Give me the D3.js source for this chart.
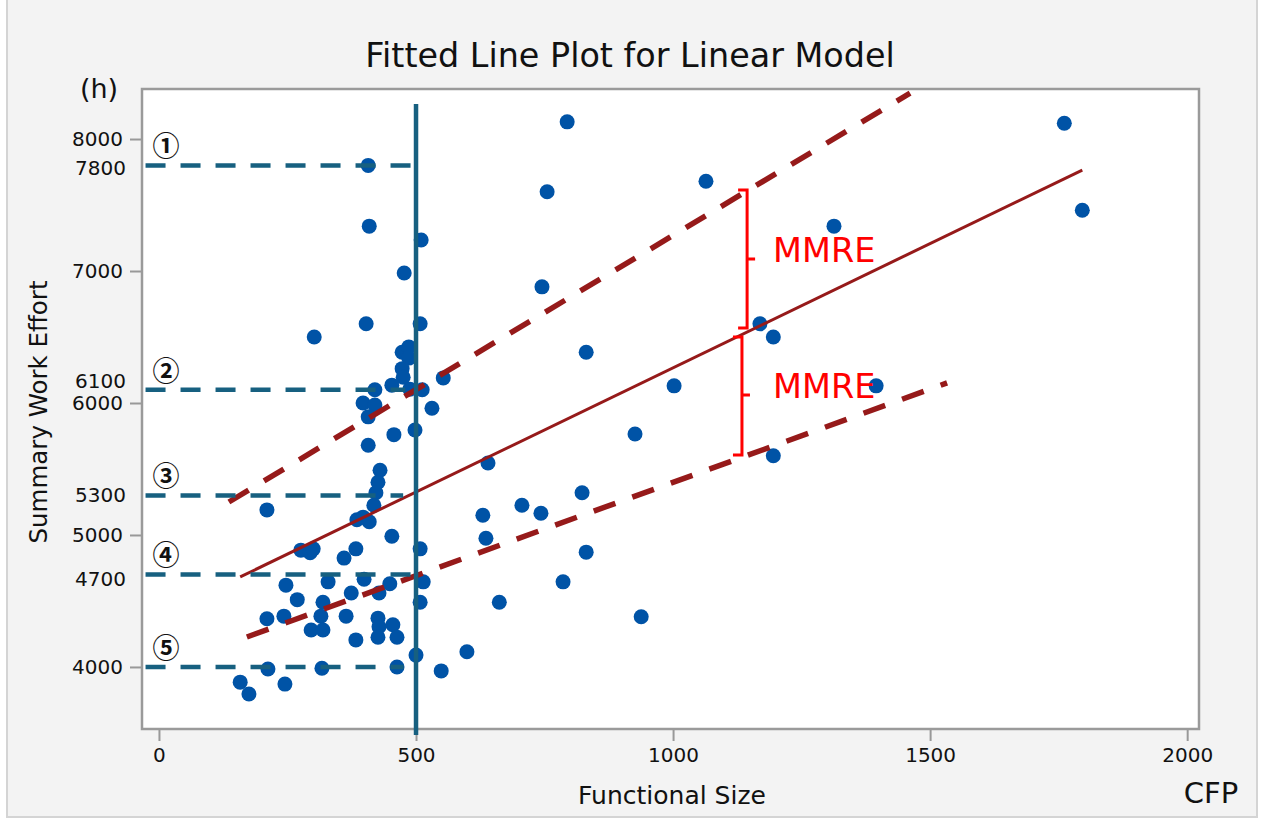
<!DOCTYPE html>
<html>
<head>
<meta charset="utf-8">
<script src="https://cdn.jsdelivr.net/npm/d3@7"></script>
<style>
  body { margin: 0; background: #fff; }
  text { font-family: "DejaVu Sans", Verdana, sans-serif; fill: #111; }
  .tick line { stroke: #999; stroke-width: 2; }
  .tick text { font-size: 20px; }
</style>
</head>
<body>
<svg id="chart"></svg>
<script>
// functional size (CFP) and summary work effort (h) for each project
let sizeCFP = [407, 409, 510, 477, 403, 302, 508, 794, 755, 1064,
  745, 831, 1761, 1796, 1313, 1169, 1195, 1395, 1002, 926,
  1195, 640, 823, 706, 743, 630, 636, 831, 786, 662,
  938, 599, 549, 473, 486, 486, 473, 475, 453, 488,
  512, 553, 420, 397, 420, 407, 531, 457, 498, 407,
  430, 426, 422, 418, 385, 397, 409, 453, 210, 276,
  294, 300, 383, 360, 508, 247, 329, 399, 449, 428,
  514, 269, 319, 374, 508, 210, 243, 315, 364, 426,
  296, 319, 428, 455, 426, 463, 383, 500, 212, 317,
  463, 158, 175, 245]
let effortH = [7800, 7340, 7235, 6985, 6600, 6500, 6600, 8130, 7600, 7680,
  6880, 6385, 8120, 7460, 7340, 6600, 6500, 6130, 6130, 5765,
  5600, 5545, 5320, 5225, 5165, 5150, 4975, 4870, 4645, 4490,
  4380, 4115, 3970, 6385, 6425, 6340, 6260, 6195, 6135, 6105,
  6100, 6190, 6100, 6000, 5985, 5895, 5960, 5760, 5795, 5680,
  5490, 5400, 5320, 5225, 5115, 5135, 5100, 4990, 5190, 4885,
  4865, 4895, 4895, 4825, 4895, 4620, 4645, 4665, 4630, 4560,
  4645, 4510, 4490, 4560, 4490, 4365, 4385, 4385, 4385, 4370,
  4280, 4280, 4305, 4320, 4225, 4225, 4205, 4090, 3985, 3990,
  4000, 3885, 3795, 3870]

let xTicks = [0, 500, 1000, 1500, 2000]
let yTicks = [4000, 5000, 6000, 7000, 8000]

// fitted line and the two MMRE band lines, as [cfp, hours] end points
let fitLine = [[158, 4682], [1796, 7765]]
let upperBand = [[136, 5250], [1461, 8348]]
let lowerBand = [[171, 4227], [1533, 6152]]

// reading lines: effort level, end of the dashed line, marker
let levels = [7800, 6100, 5300, 4700, 4000]
let levelEnds = [515, 479, 475, 515, 476]
let levelMarks = ["①", "②", "③", "④", "⑤"]
let levelShift = [3, -9, 0, 4, 0] // keeps the extra labels clear of the ticks

let cutSize = 500
let cutSpan = [3485, 8265]

// MMRE brackets: x, top, bottom, middle
let bracketX = [1144, 1134]
let bracketTop = [7614, 6500]
let bracketBottom = [6568, 5606]
let bracketMid = [7091, 6061]

let width = 1266,
  height = 830,
  plot = {left: 142, right: 1199, top: 89, bottom: 729},
  teal = "#176080",
  red = "#961a1a"

let svg = d3.select("#chart").attr("width", width).attr("height", height)

svg.append("rect")
  .attr("x", 7).attr("y", -2).attr("width", 1250).attr("height", 819)
  .attr("fill", "#f3f3f3").attr("stroke", "#d4d4d4").attr("stroke-width", 2)

let x = d3.scaleLinear().domain([-33, 2023]).range([plot.left, plot.right])
let y = d3.scaleLinear().domain([3530, 8379]).range([plot.bottom, plot.top])

svg.append("rect")
  .attr("x", plot.left).attr("y", plot.top)
  .attr("width", plot.right - plot.left).attr("height", plot.bottom - plot.top)
  .attr("fill", "#fff").attr("stroke", "#9a9a9a").attr("stroke-width", 2.5)

// axes
let xAxis = svg.append("g")
  .attr("transform", `translate(0, ${plot.bottom + 1})`)
  .call(d3.axisBottom(x).tickValues(xTicks).tickSize(11).tickPadding(7).tickFormat(d3.format("d")))
xAxis.select(".domain").remove()

let yAxis = svg.append("g")
  .attr("transform", `translate(${plot.left - 1}, 0)`)
  .call(d3.axisLeft(y).tickValues(yTicks).tickSize(11).tickPadding(7).tickFormat(d3.format("d")))
yAxis.select(".domain").remove()
svg.selectAll(".tick text").attr("fill", "#111")

// extra effort labels for the reading lines
svg.append("g").attr("class", "levels")
  .selectAll("text")
  .data(levels.slice(0, 4)).enter()
  .append("text")
  .attr("x", 126)
  .attr("y", (d, i) => y(d) + levelShift[i])
  .attr("dy", "0.35em")
  .attr("text-anchor", "end")
  .style("font-size", "20px")
  .text(d => d)

// points
svg.append("clipPath").attr("id", "plotclip")
  .append("rect")
  .attr("x", plot.left).attr("y", plot.top)
  .attr("width", plot.right - plot.left).attr("height", plot.bottom - plot.top)

svg.append("g").selectAll("circle")
  .data(sizeCFP).enter()
  .append("circle")
  .attr("cx", d => x(d))
  .attr("cy", (d, i) => y(effortH[i]))
  .attr("r", 7.5)
  .attr("fill", "#0053a6")

// lines over the points
let line = d3.line().x(d => x(d[0])).y(d => y(d[1]))
let lines = svg.append("g").attr("clip-path", "url(#plotclip)")

lines.append("path").attr("d", line(fitLine))
  .attr("stroke", red).attr("stroke-width", 3).attr("fill", "none")
lines.selectAll(".band")
  .data([upperBand, lowerBand]).enter()
  .append("path")
  .attr("class", "band")
  .attr("d", d => line(d))
  .attr("stroke", red).attr("stroke-width", 5.5).attr("fill", "none")
  .attr("stroke-dasharray", "23 18")

svg.append("g").selectAll("line")
  .data(levels).enter()
  .append("line")
  .attr("x1", x(-30)).attr("x2", (d, i) => x(levelEnds[i]))
  .attr("y1", d => y(d)).attr("y2", d => y(d))
  .attr("stroke", teal).attr("stroke-width", 4.5)
  .attr("stroke-dasharray", "20 15")
  .attr("stroke-dashoffset", -2)

svg.append("line")
  .attr("x1", x(cutSize)).attr("x2", x(cutSize))
  .attr("y1", y(cutSpan[0])).attr("y2", y(cutSpan[1]))
  .attr("stroke", teal).attr("stroke-width", 4.5)

svg.append("g").selectAll("text")
  .data(levelMarks).enter()
  .append("text")
  .attr("x", 166)
  .attr("y", (d, i) => y(levels[i]) - 19)
  .attr("dy", "0.36em")
  .attr("text-anchor", "middle")
  .style("font-family", "'Noto Sans CJK SC', 'Noto Sans CJK JP', sans-serif")
  .style("font-size", "27px")
  .style("font-weight", "bold")
  .text(d => d)

// MMRE brackets
let brackets = svg.append("g")
let textX = x(d3.max(bracketX)) + 26
bracketX.forEach((bx, i) => {
  let px = x(bx), t = y(bracketTop[i]), b = y(bracketBottom[i]), m = y(bracketMid[i])
  brackets.append("path")
    .attr("d", `M${px - 9},${t}H${px}V${b}H${px - 9}M${px},${m}H${px + 8}`)
    .attr("stroke", "#ff0000").attr("stroke-width", 3).attr("fill", "none")
  brackets.append("text")
    .attr("x", textX).attr("y", m + 3)
    .style("font-size", "33.5px").style("fill", "#ff0000")
    .text("MMRE")
})

// titles
svg.append("text")
  .attr("x", 630).attr("y", 67)
  .attr("text-anchor", "middle")
  .style("font-size", "33.4px")
  .text("Fitted Line Plot for Linear Model")

svg.append("text")
  .attr("x", 99).attr("y", 98)
  .attr("text-anchor", "middle")
  .style("font-size", "27px")
  .text("(h)")

svg.append("text")
  .attr("transform", `translate(47, ${(plot.top + plot.bottom) / 2 + 3})rotate(-90)`)
  .attr("text-anchor", "middle")
  .style("font-size", "24.5px")
  .text("Summary Work Effort")

svg.append("text")
  .attr("x", 672).attr("y", 804)
  .attr("text-anchor", "middle")
  .style("font-size", "25px")
  .text("Functional Size")

svg.append("text")
  .attr("x", 1211).attr("y", 803)
  .attr("text-anchor", "middle")
  .style("font-size", "29px")
  .text("CFP")
</script>
</body>
</html>
